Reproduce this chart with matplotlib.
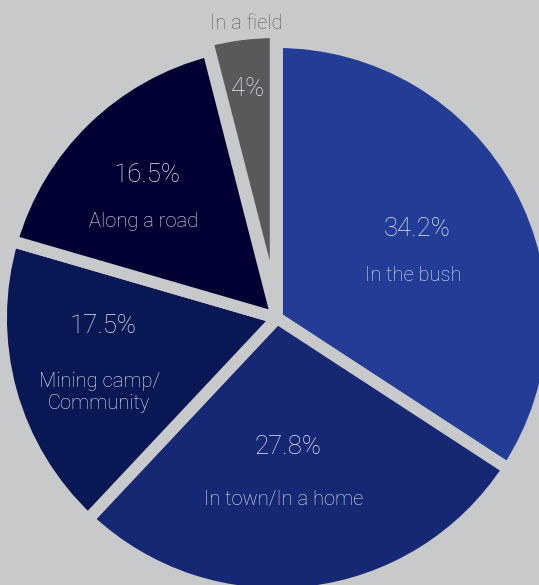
import matplotlib

matplotlib.use("Agg")

import numpy as np
import matplotlib.pyplot as plt

# data
places = ["In the bush", "In town/In a home", "Mining camp/\nCommunity", "Along a road", "In a field"]
shares = [34.2, 27.8, 17.5, 16.5, 4.0]
share_labels = ["34.2%", "27.8%", "17.5%", "16.5%", "4%"]
colors = ["#233c96", "#162773", "#0a1755", "#000033", "#58595b"]

BG = "#c8c9cb"
TXT = "#e8e9f2"

# figure is laid out in pixel terms; pie radius used as the data unit
W, H = 539, 585
R = 276.0
cx, cy = 277.0, 318.0  # pie centre in pixels from top-left

fig = plt.figure(figsize=(W / 100, H / 100), dpi=100)
fig.patch.set_facecolor(BG)
ax = fig.add_axes([0, 0, 1, 1])
ax.set_facecolor(BG)

explode = [0, 0, 0, 0, 10 / R]
wedges, _ = ax.pie(
    shares,
    colors=colors,
    startangle=90,
    counterclock=False,
    radius=1.0,
    explode=explode,
    wedgeprops=dict(edgecolor=BG, linewidth=8.6, joinstyle="bevel"),
)
ax.set_xlim(-cx / R, (W - cx) / R)
ax.set_ylim(-(H - cy) / R, cy / R)
ax.set_aspect("equal")
ax.axis("off")

# label placement: radius fraction and angle tweak for the percentage,
# then the place name a fixed pixel distance below it
pct_r = [0.60, 0.47, 0.63, 0.70, 0.80]
pct_dang = [4.0, -2.0, -12.7, -2.0, 0.0]
name_drop = [46, 52, 67, 47, -66]

for w, lab, pct, r, da, drop in zip(wedges, places, share_labels, pct_r, pct_dang, name_drop):
    mid = np.deg2rad((w.theta1 + w.theta2) / 2 + da)
    x0, y0 = w.center
    px = x0 + r * np.cos(mid)
    py = y0 + r * np.sin(mid)
    ax.text(px, py, pct, ha="center", va="center", color=TXT,
            fontsize=18.5, family="Roboto", fontweight="light")
    name_col = TXT if drop > 0 else "#595a5c"
    ax.text(px - (4 if drop > 0 else 2) / R, py - drop / R, lab, ha="center", va="center",
            color=name_col, fontsize=14.5, family="Roboto", fontweight="light",
            linespacing=1.2)

fig.savefig("out.png", dpi=100, facecolor=BG)
plt.close(fig)
